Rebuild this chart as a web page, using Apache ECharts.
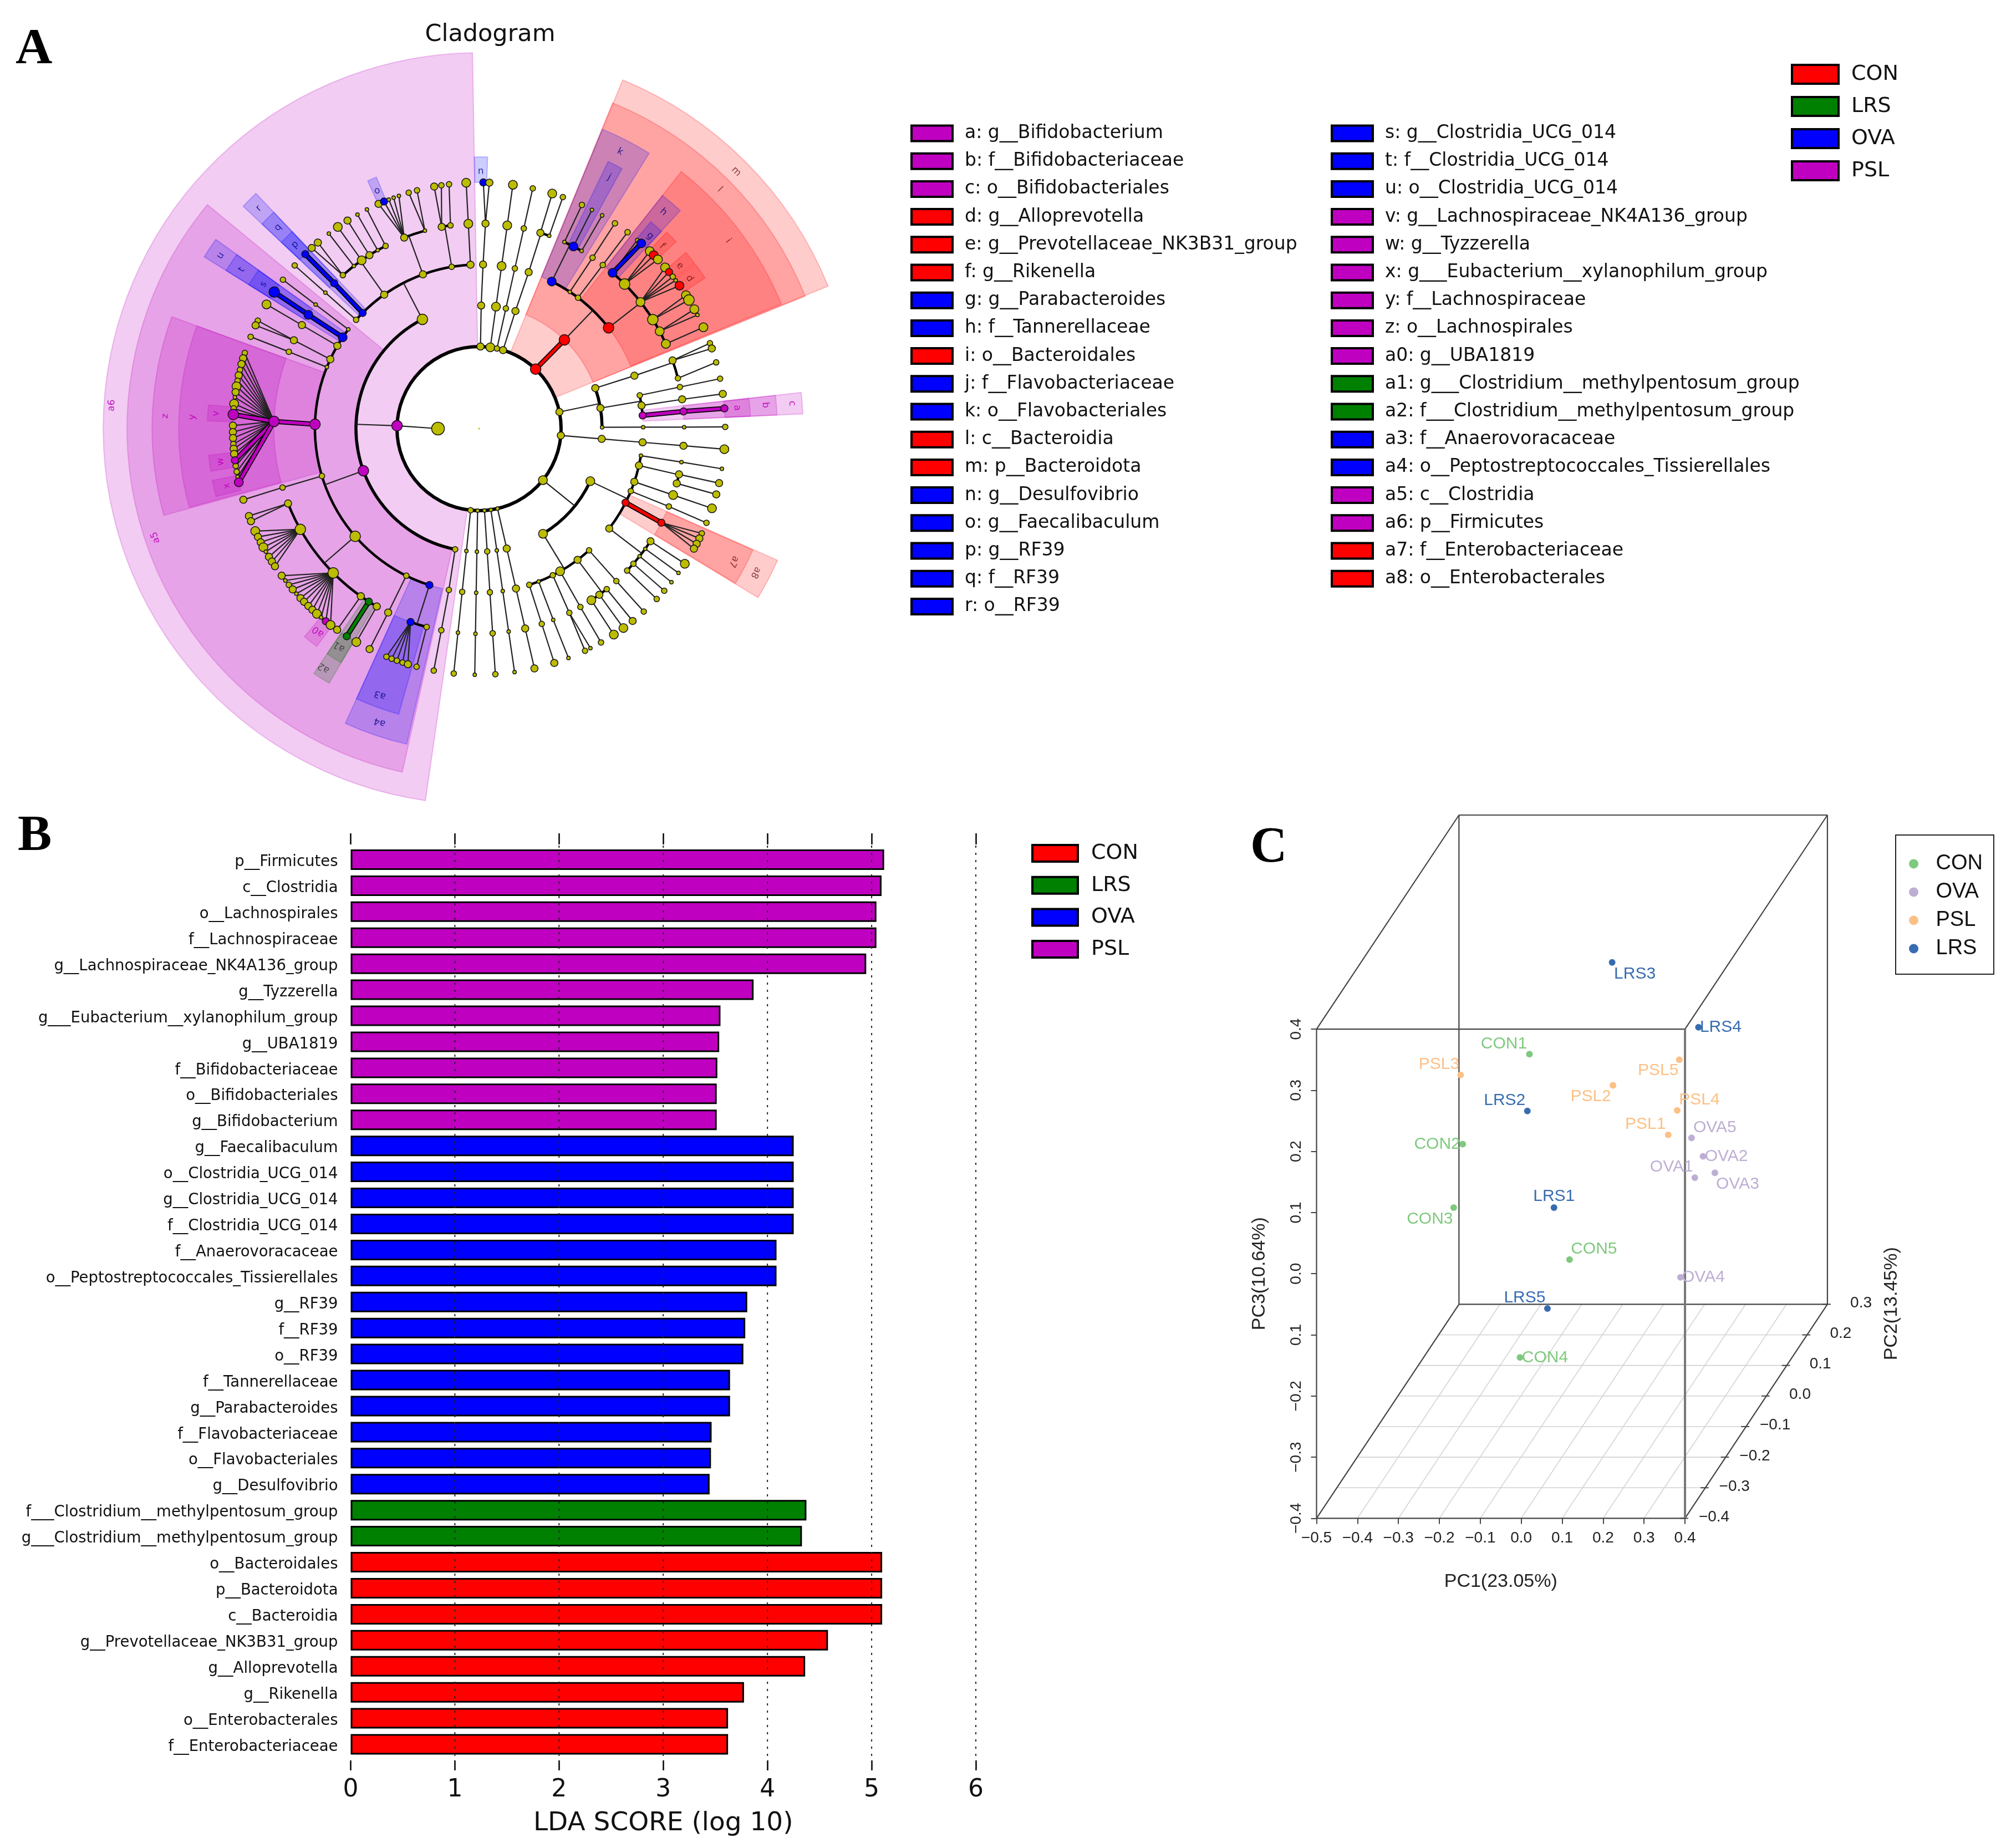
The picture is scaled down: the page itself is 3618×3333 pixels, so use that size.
<!DOCTYPE html>
<html>
<head>
<meta charset="utf-8">
<script src="https://cdn.jsdelivr.net/npm/echarts@6/dist/echarts.min.js"></script>
<style>html,body{margin:0;padding:0;background:#fff}#c{width:3618px;height:3333px}</style>
</head>
<body>
<div id="c"></div>
<script>
/* ---------- Panel B values ---------- */
const pslTaxa = ['p__Firmicutes','c__Clostridia','o__Lachnospirales','f__Lachnospiraceae','g__Lachnospiraceae_NK4A136_group','g__Tyzzerella','g___Eubacterium__xylanophilum_group','g__UBA1819','f__Bifidobacteriaceae','o__Bifidobacteriales','g__Bifidobacterium'];
const pslScore = [5.12,5.095,5.046,5.046,4.948,3.867,3.549,3.537,3.519,3.513,3.513];
const ovaTaxa = ['g__Faecalibaculum','o__Clostridia_UCG_014','g__Clostridia_UCG_014','f__Clostridia_UCG_014','f__Anaerovoracaceae','o__Peptostreptococcales_Tissierellales','g__RF39','f__RF39','o__RF39','f__Tannerellaceae','g__Parabacteroides','f__Flavobacteriaceae','o__Flavobacteriales','g__Desulfovibrio'];
const ovaScore = [4.252,4.252,4.252,4.252,4.087,4.087,3.806,3.787,3.769,3.641,3.641,3.464,3.458,3.445];
const lrsTaxa = ['f___Clostridium__methylpentosum_group','g___Clostridium__methylpentosum_group'];
const lrsScore = [4.374,4.331];
const conTaxa = ['o__Bacteroidales','p__Bacteroidota','c__Bacteroidia','g__Prevotellaceae_NK3B31_group','g__Alloprevotella','g__Rikenella','o__Enterobacterales','f__Enterobacteriaceae'];
const conScore = [5.101,5.101,5.101,4.581,4.362,3.775,3.622,3.622];
const ldaGuides = [1,2,3,4,5,6];

/* ---------- Panel A legend ---------- */
const cladeKeyLeft = [['a: g__Bifidobacterium','PSL'],['b: f__Bifidobacteriaceae','PSL'],['c: o__Bifidobacteriales','PSL'],['d: g__Alloprevotella','CON'],['e: g__Prevotellaceae_NK3B31_group','CON'],['f: g__Rikenella','CON'],['g: g__Parabacteroides','OVA'],['h: f__Tannerellaceae','OVA'],['i: o__Bacteroidales','CON'],['j: f__Flavobacteriaceae','OVA'],['k: o__Flavobacteriales','OVA'],['l: c__Bacteroidia','CON'],['m: p__Bacteroidota','CON'],['n: g__Desulfovibrio','OVA'],['o: g__Faecalibaculum','OVA'],['p: g__RF39','OVA'],['q: f__RF39','OVA'],['r: o__RF39','OVA']];
const cladeKeyRight = [['s: g__Clostridia_UCG_014','OVA'],['t: f__Clostridia_UCG_014','OVA'],['u: o__Clostridia_UCG_014','OVA'],['v: g__Lachnospiraceae_NK4A136_group','PSL'],['w: g__Tyzzerella','PSL'],['x: g___Eubacterium__xylanophilum_group','PSL'],['y: f__Lachnospiraceae','PSL'],['z: o__Lachnospirales','PSL'],['a0: g__UBA1819','PSL'],['a1: g___Clostridium__methylpentosum_group','LRS'],['a2: f___Clostridium__methylpentosum_group','LRS'],['a3: f__Anaerovoracaceae','OVA'],['a4: o__Peptostreptococcales_Tissierellales','OVA'],['a5: c__Clostridia','PSL'],['a6: p__Firmicutes','PSL'],['a7: f__Enterobacteriaceae','CON'],['a8: o__Enterobacterales','CON']];

/* ---------- Panel A highlighted clades: label, group, r0, r1, a0, a1, labelR, labelA (radius in taxonomy-level units, angle in degrees) ---------- */
const cladeSectors = [
['a6','PSL',2,9.16,188.2,359,8.97,273.6],['a5','PSL',3,8.58,192.6,309.5,8.32,251.4],['z','PSL',4,7.97,254.6,290,7.65,272.3],['y','PSL',5,7.32,254.8,290,6.99,272.3],
['a4','OVA',4,7.89,192.9,204.4,7.55,198.7],['a3','OVA',5,7.23,195.7,204.4,6.92,200.4],['a2','LRS',5,7.2,210.5,214,6.95,213],['a1','LRS',6,6.62,210.5,214,6.31,212.7],
['a0','PSL',6.04,6.62,216.7,220,6.31,218.4],['v','PSL',6,6.62,271.6,275,6.42,273.3],['w','PSL',6,6.62,261,264.4,6.35,262.7],['x','PSL',6,6.62,255.5,259,6.3,257.2],
['o','OVA',6,6.62,335.8,337.8,6.3,336.8],['n','OVA',6,6.62,-1,1.8,6.27,0.4],
['r','OVA',4,7.9,313.3,316.5,7.59,315],['q','OVA',5,7.27,313.3,316.5,6.93,315],['p','OVA',6,6.62,313.3,316.5,6.34,315],
['u','OVA',4,7.9,302,305.7,7.58,303.8],['t','OVA',5,7.27,302,305.7,6.96,303.8],['s','OVA',6,6.62,302,305.7,6.32,303.8],
['m','CON',2,9.19,22.4,67.8,8.86,45],['l','CON',3,8.58,22.3,67.9,8.27,45.2],['i','CON',4,7.97,38.2,67.6,7.6,53],
['k','OVA',4,7.89,22.4,31.7,7.57,27],['j','OVA',5,7.23,25.8,28.8,6.9,27.4],['h','OVA',5,7.23,38.2,42.7,6.93,40.4],['g','OVA',6,6.55,39.7,42.8,6.28,41.6],
['f','CON',6,6.62,43.7,46.5,6.3,45.1],['e','CON',6,6.62,49.6,52.4,6.3,51],['d','CON',6,6.62,52.7,56.3,6.3,54.5],
['c','PSL',4,7.9,83.6,87.4,7.65,85.4],['b','PSL',5,7.27,83.6,87.4,7,85.3],['a','PSL',6,6.62,83.6,87.4,6.31,85.4],
['a8','CON',4,7.95,113.8,121.2,7.6,117.5],['a7','CON',5,7.3,113.9,121.1,7,117.6]];

/* ---------- Panel A taxonomy tree: [angle, sizeClass, group, children] ---------- */
const CONg=1,LRSg=2,OVAg=3,PSLg=4;
const Y=(a,s,...k)=>[a,s,0,k], K=(a,s,g,...k)=>[a,s,g,k];
const L=(a,...z)=>[a,z[0],0,z.length>1?[L(a,...z.slice(1))]:[]];
const bacteroidotaBranch = K(43.6,5,CONg,K(43.9,5,CONg,
  K(26.3,4,OVAg,Y(24.6,1,Y(24.7,2)),K(27.4,4,OVAg,Y(27.3,1)),Y(30,1,Y(30,1))),
  Y(33.6,1,Y(33.6,2,Y(33.5,2))),
  Y(37.1,2,Y(37.1,2,Y(37.1,2))),
  K(52.1,5,CONg,
    K(40.6,4,OVAg,Y(40,1),K(41.2,4,OVAg)),
    Y(45.2,5,Y(43.9,4),K(45.2,4,CONg),Y(46.6,4)),
    Y(51.9,4,Y(49.1,4),K(50.5,3,CONg),Y(51.9,2),Y(53,1),K(54.5,4,CONg)),
    Y(57.9,5,Y(57.2,4),Y(58.5,5)),
    Y(61.7,4,Y(61,4),Y(62.5,1)),
    Y(65.6,4,Y(65.7,4)))));
const firmicutesUpper = Y(332.6,5,
  Y(357,3,Y(357,4,Y(357,4))),
  Y(350.4,2,Y(349.5,3,Y(349.5,3),Y(351.2,2)),Y(352,2,Y(353,2))),
  Y(340,3,Y(338.6,3,Y(335.9,3),K(337.3,3,OVAg),Y(338.5,1),Y(339.7,1),Y(341,1)),Y(344.7,1,Y(343.4,2),Y(345.4,2))),
  Y(324.7,3,Y(318.4,2,Y(317.2,3),Y(319.1,3)),Y(322.4,1,Y(322.4,1)),Y(325.1,4,Y(325,4)),Y(327.7,3,Y(327.7,3)),Y(330.4,1,Y(330.4,1)),Y(332.9,2,Y(332.9,1))),
  K(314.8,3,OVAg,K(315.1,3,OVAg,K(315.1,3,OVAg))),
  Y(311.5,2,Y(311.5,1,Y(311.5,2))));
const lachnoFan = [[287.9,2],[286.6,3],[285.2,3],[283.8,2],[282.5,3],[281.2,2],[279.9,4],[278.5,3],[277.3,1],[275.8,4],[274.7,2]];
const lachnoFanLow = [[270.7,3],[269.2,3],[267.8,3],[266.4,2],[265.3,3],[264.1,3],[261.3,2],[259.9,2],[258.7,1]];
const clostridiales = Y(240.6,5,Y(245.4,4),Y(243.9,3),Y(242.5,3),Y(241.2,4),Y(240,1),Y(238.6,3),Y(237.3,3),Y(236,3));
const oscillo = Y(225.3,5,Y(233.3,3),Y(231.9,1),Y(230.6,2),Y(229.2,3),Y(227.9,1),Y(226.5,3),Y(225.3,3),Y(223.9,3),Y(222.6,3),Y(221.2,4),Y(219.9,1),K(218.5,3,PSLg),Y(217.1,4));
const clostridiaBranch = K(250,5,PSLg,
  Y(307.2,1,Y(307.2,1,Y(307.2,2))),
  K(303.8,4,OVAg,K(303.7,4,OVAg,K(303.7,5,OVAg))),
  Y(300.3,3,Y(300.3,3,Y(300.3,4))),
  Y(295,3,Y(295.5,3,Y(296,2),Y(294.8,3))),
  Y(292,1,Y(292,2,Y(291.9,2))),
  K(271.5,5,PSLg,K(272,5,PSLg,
    ...lachnoFan.map(n=>Y(n[0],n[1])),K(273.3,5,PSLg),
    ...lachnoFanLow.map(n=>Y(n[0],n[1])),K(262.6,3,PSLg),K(257.4,4,PSLg))),
  Y(253.2,2,Y(253.3,2,Y(253.2,3))),
  Y(229,5,Y(248.6,3,Y(249.2,3),Y(247.9,3)),clostridiales,oscillo,Y(215.2,3,Y(215.2,3)),K(212.5,3,LRSg,K(212.5,3,LRSg)),Y(209.9,3,Y(209.9,4))),
  Y(206.3,2,Y(206.3,3,Y(206.4,3))),
  K(197.6,3,OVAg,K(199.5,3,OVAg,Y(202.1,2),Y(200.8,2),Y(199.5,2),Y(198.1,2),Y(196.8,3)),Y(194.8,2,Y(194.7,2))));
const cladePhyla = [
  Y(1,3,Y(1,3,Y(1.4,3,Y(1.8,3,K(1,3,OVAg),Y(2.4,3))))),
  L(7.9,4,4,4,4,4),
  L(12.6,2,2,2,2,2),
  Y(17,3,Y(17.2,3,Y(17.6,3,Y(17.4,3,Y(17.3,4)),Y(20,1,Y(19.9,2))))),
  bacteroidotaBranch,
  Y(78.3,3,
    Y(70.8,3,Y(71.2,3,Y(70.6,3,Y(69.7,2),Y(71,3)),Y(75.8,2,Y(74.4,2)))),
    Y(80.4,3,Y(78.3,2,Y(78.3,2,Y(78.3,2))),Y(81.9,3,Y(81.8,3,Y(81.9,3))),K(85.4,3,PSLg,K(85.2,3,PSLg,K(85.3,3,PSLg)))),
    Y(89.4,1,Y(89.5,1,Y(89.6,1,Y(89.6,2))))),
  L(94.8,3,3,3,3,4),
  Y(128.9,4,
    Y(115.3,4,
      Y(99.5,1,Y(99.4,1,Y(99.4,1))),
      Y(103,3,Y(102.9,3,Y(102.8,3)),Y(105.5,3,Y(105.5,3))),
      Y(108.9,3,Y(108.9,4,Y(108.9,4))),
      Y(112.4,2,Y(112.3,2,Y(112.5,2))),
      K(116.8,3,CONg,K(117.3,3,CONg,Y(115.2,2),Y(116.5,3),Y(117.9,3),Y(119.2,3))),
      Y(127.5,3,Y(123.3,3,Y(123.3,4)),Y(125.9,1,Y(125.9,1)),Y(128.5,1,Y(128.6,1)),Y(131.2,2,Y(131.2,2)),Y(133.8,2,Y(133.8,2)))),
    Y(148.7,4,
      Y(137.9,2,Y(138,2,Y(138,2))),
      Y(143.1,3,Y(141.5,2,Y(141.4,3)),Y(144.1,3,Y(144.1,4)),Y(146.8,4,Y(146.8,4))),
      Y(150.4,4,Y(150.4,2,Y(150.3,2))),
      Y(153.3,2,Y(153.9,2,Y(153.1,1),Y(154.5,2))),
      Y(158.7,1,Y(158.8,1,Y(158.7,1))),
      Y(162.2,2,Y(162.2,2,Y(162.2,3))))),
  L(167,1,3,3,3,3),
  L(171.7,1,1,1,1,1),
  L(176.2,1,2,2,2,2),
  L(181,1,1,1,1,1),
  L(185.9,2,1,2,1,2),
  K(272,5,PSLg,firmicutesUpper,clostridiaBranch,Y(191.2,2,Y(190.6,2,Y(190.6,2,Y(190.6,2)))))
];

/* ---------- Panel C values: positions on the front-plane PC1 / PC3 scales ---------- */
const pcaCON = [['CON1',0.020,0.359],['CON2',-0.143,0.212],['CON3',-0.165,0.108],['CON4',-0.003,-0.137],['CON5',0.118,0.023]];
const pcaOVA = [['OVA1',0.424,0.157],['OVA2',0.444,0.192],['OVA3',0.473,0.165],['OVA4',0.389,-0.006],['OVA5',0.416,0.222]];
const pcaPSL = [['PSL1',0.359,0.227],['PSL2',0.224,0.308],['PSL3',-0.148,0.325],['PSL4',0.381,0.267],['PSL5',0.386,0.350]];
const pcaLRS = [['LRS1',0.080,0.108],['LRS2',0.015,0.266],['LRS3',0.222,0.509],['LRS4',0.433,0.403],['LRS5',0.064,-0.057]];
const pc1Ticks = [-0.5,-0.4,-0.3,-0.2,-0.1,0,0.1,0.2,0.3,0.4];
const pc2Ticks = [-0.4,-0.3,-0.2,-0.1,0,0.1,0.2,0.3];
const pc3Ticks = [-0.4,-0.3,-0.2,-0.1,0,0.1,0.2,0.3,0.4];

/* ---------- styling ---------- */
const GROUP = {CON:'#ff0000',LRS:'#008000',OVA:'#0000ff',PSL:'#c000c0'};
const GROUP_RGB = {CON:'255,0,0',LRS:'0,110,0',OVA:'0,0,255',PSL:'192,0,192'};
const LABEL_INK = {CON:'rgba(90,0,0,.7)',LRS:'rgba(40,50,40,.75)',OVA:'rgba(0,0,130,.8)',PSL:'rgba(190,0,190,.9)'};
const NODE_FILL = ['#bcbc00','#ff0000','#008000','#0000ff','#c000c0'];
const NODE_SIZE = [0,6.5,10,13,16,19,23];
const PCA_COLOR = {CON:'#7fc97f',OVA:'#beaed4',PSL:'#fdc086',LRS:'#386cb0'};
const SANS='"DejaVu Sans"', ARIAL='"Liberation Sans"', SERIF='"Liberation Serif"';
const STEP=74, RMAX=9.5;

/* ---------- flatten tree ---------- */
const nodes=[], edges=[], arcs=[[2,0,360,6]];
function walk(n,level){
  const [a,s,g,kids]=n;
  nodes.push({value:[level,a],symbolSize:NODE_SIZE[s],itemStyle:{color:NODE_FILL[g]}});
  if(!kids.length) return;
  if(kids.length===1||level+1===6){
    kids.forEach(k=>edges.push([level,a,level+1,k[0],(k[2]&&k[2]===g)?g:0]));
  }else{
    edges.push([level,a,level+1,a,0]);
    const as=kids.map(k=>k[0]);
    arcs.push([level+1,Math.min(...as),Math.max(...as),level+1<4?5.5:4.5]);
  }
  kids.forEach(k=>walk(k,level+1));
}
cladePhyla.forEach(p=>walk(p,2));
nodes.push({value:[1,270],symbolSize:NODE_SIZE[6],itemStyle:{color:NODE_FILL[0]}});
nodes.push({value:[0,0],symbolSize:3,itemStyle:{color:NODE_FILL[0],borderWidth:0}});
edges.push([1,270,2,272,0]);
edges.sort((p,q)=>p[4]-q[4]);

const rad=d=>(d-90)*Math.PI/180;
function renderSector(params,api){
  const s=cladeSectors[params.dataIndex], c=params.coordSys;
  const pxr=c.r/RMAX;
  const lp=api.coord([s[6],s[7]]);
  return {type:'group',children:[
    {type:'sector',shape:{cx:c.cx,cy:c.cy,r0:s[2]*pxr,r:s[3]*pxr,startAngle:rad(s[4]),endAngle:rad(s[5])},
     style:{fill:'rgba('+GROUP_RGB[s[1]]+',.2)',stroke:'rgba('+GROUP_RGB[s[1]]+',.22)',lineWidth:2}},
    {type:'text',x:lp[0],y:lp[1],rotation:-s[7]*Math.PI/180,
     style:{text:s[0],font:'17px '+SANS,fill:LABEL_INK[s[1]],align:'center',verticalAlign:'middle'}}
  ]};
}
function renderArc(params){
  const s=arcs[params.dataIndex], c=params.coordSys, pxr=c.r/RMAX;
  return {type:'arc',shape:{cx:c.cx,cy:c.cy,r:s[0]*pxr,startAngle:rad(s[1]),endAngle:rad(s[2]),clockwise:true},
    style:{stroke:'#000',lineWidth:s[3],fill:null,lineCap:'round'}};
}
function renderEdge(params,api){
  const e=edges[params.dataIndex], p=api.coord([e[0],e[1]]), q=api.coord([e[2],e[3]]);
  const shape={x1:p[0],y1:p[1],x2:q[0],y2:q[1]};
  if(!e[4]) return {type:'line',shape,style:{stroke:'#222',lineWidth:2.2}};
  return {type:'group',children:[
    {type:'line',shape,style:{stroke:'#000',lineWidth:9}},
    {type:'line',shape,style:{stroke:NODE_FILL[e[4]],lineWidth:5.5}}]};
}
function renderGuide(params,api){
  const x=ldaGuides[params.dataIndex],a=api.coord([x,0]),b=api.coord([x,1]);
  return {type:'line',shape:{x1:a[0],y1:a[1],x2:b[0],y2:b[1]},style:{stroke:'#222',lineWidth:2,lineDash:[4,9]}};
}

/* ---------- panel C helpers ---------- */
const K1=0.497, K2=0.5;
const project=(p1,p2,p3)=>[p1+K1*(p2+0.4),p3+K2*(p2+0.4)];
const seg=(a,b,col,w)=>[...a,...b,col,w];
const boxSegs=[];
pc2Ticks.slice(1,-1).forEach(t=>boxSegs.push(seg(project(-0.5,t,-0.4),project(0.4,t,-0.4),'#d2d2d2',1.6)));
pc1Ticks.slice(1,-1).forEach(t=>boxSegs.push(seg(project(t,-0.4,-0.4),project(t,0.3,-0.4),'#d2d2d2',1.6)));
const P=(a,b,c)=>project(a,b,c);
[[P(-.5,.3,-.4),P(.4,.3,-.4)],[P(-.5,.3,-.4),P(-.5,.3,.4)],[P(.4,.3,-.4),P(.4,.3,.4)],[P(-.5,.3,.4),P(.4,.3,.4)],
 [P(-.5,-.4,.4),P(-.5,.3,.4)],[P(.4,-.4,.4),P(.4,.3,.4)],[P(-.5,-.4,-.4),P(-.5,.3,-.4)],[P(.4,-.4,-.4),P(.4,.3,-.4)],
 [P(-.5,-.4,-.4),P(-.5,-.4,.4)],[P(-.5,-.4,-.4),P(.4,-.4,-.4)],[P(-.5,-.4,.4),P(.4,-.4,.4)]
].forEach(s=>boxSegs.push(seg(s[0],s[1],'#444',2.2)));
boxSegs.push(seg(P(.4,-.4,-.4),P(.4,-.4,.4),'#777',4));
pc2Ticks.forEach(t=>{const q=project(0.4,t,-0.4);boxSegs.push(seg([q[0]-0.012,q[1]],[q[0]+0.008,q[1]],'#444',2));});
function renderSeg(params,api){
  const s=boxSegs[params.dataIndex],a=api.coord([s[0],s[1]]),b=api.coord([s[2],s[3]]);
  return {type:'line',shape:{x1:a[0],y1:a[1],x2:b[0],y2:b[1]},style:{stroke:s[4],lineWidth:s[5]}};
}
const minus=v=>v<0?'\u2212'+Math.abs(v).toFixed(1):v.toFixed(1);
const pcaNotes=[['PC1(23.05%)',-0.05,-0.504,0,34,'center'],['PC3(10.64%)',-0.639,0,90,34,'center'],['PC2(13.45%)',0.905,-0.049,90,34,'center']];
pc2Ticks.forEach(t=>{const q=project(0.4,t,-0.4);pcaNotes.push([minus(t),q[0]+0.1085,q[1]+0.002,0,28,'right']);});
function renderNote(params,api){
  const s=pcaNotes[params.dataIndex],a=api.coord([s[1],s[2]]);
  return {type:'text',x:a[0],y:a[1],rotation:s[3]*Math.PI/180,
    style:{text:s[0],font:s[4]+'px '+ARIAL,fill:'#222',align:s[5],verticalAlign:'middle'}};
}
const LABEL_OFFSET={CON1:[-46,-19],CON2:[-46,0],CON3:[-43,21],CON4:[45,0],CON5:[44,-19],OVA1:[-42,-19],OVA2:[42,0],OVA3:[41,21],OVA4:[41,0],OVA5:[42,-19],PSL1:[-41,-19],PSL2:[-40,20],PSL3:[-39,-19],PSL4:[40,-19],PSL5:[-38,20],LRS1:[0,-20],LRS2:[-41,-19],LRS3:[41,21],LRS4:[40,0],LRS5:[-41,-19]};
const pcaSeries=(name,rows)=>({type:'scatter',name,xAxisIndex:3,yAxisIndex:2,z:6,symbolSize:12,silent:true,
  itemStyle:{color:PCA_COLOR[name],opacity:1},
  label:{show:true,position:'inside',formatter:'{b}',color:PCA_COLOR[name],fontFamily:ARIAL,fontSize:30},
  data:rows.map(r=>({name:r[0],value:[r[1],r[2]],label:{offset:LABEL_OFFSET[r[0]]}}))});

/* ---------- panel B helpers ---------- */
const taxa=[...pslTaxa,...ovaTaxa,...lrsTaxa,...conTaxa];
const sets=[['PSL',pslTaxa,pslScore],['OVA',ovaTaxa,ovaScore],['LRS',lrsTaxa,lrsScore],['CON',conTaxa,conScore]];
const barSeries=sets.map(([name,t,v])=>({type:'bar',name,xAxisIndex:2,yAxisIndex:1,stack:'lda',barWidth:37,silent:true,z:2,
  itemStyle:{color:GROUP[name],borderColor:'#000',borderWidth:3},
  data:taxa.map(x=>{const i=t.indexOf(x);return i<0?null:v[i];})}));

const keySeries=[...cladeKeyLeft,...cladeKeyRight].map(k=>({type:'scatter',name:k[0],coordinateSystem:'polar',data:[]}));
const boxLegend=(names,left,top,itemW,itemH,gap,font,textPad)=>({left,top,orient:'vertical',padding:0,itemGap:gap,itemWidth:itemW,itemHeight:itemH,
  selectedMode:false,icon:'rect',
  textStyle:{fontFamily:SANS,fontSize:font,color:'#111',lineHeight:itemH,padding:[0,0,0,textPad]},
  data:names.map(n=>({name:n[0],icon:'rect',itemStyle:{color:GROUP[n[1]],borderColor:'#000',borderWidth:4,opacity:1}}))});
const groups4=['CON','LRS','OVA','PSL'].map(g=>[g,g]);

const option={
  backgroundColor:'#fff',animation:false,
  title:[
    {text:'A',left:28,top:44,padding:0,textStyle:{fontFamily:SERIF,fontWeight:'bold',fontSize:92,color:'#000'}},
    {text:'Cladogram',left:884,top:41,padding:0,textAlign:'center',textStyle:{fontFamily:SANS,fontWeight:'normal',fontSize:43,color:'#111'}},
    {text:'B',left:32,top:1463,padding:0,textStyle:{fontFamily:SERIF,fontWeight:'bold',fontSize:92,color:'#000'}},
    {text:'C',left:2255,top:1484,padding:0,textStyle:{fontFamily:SERIF,fontWeight:'bold',fontSize:92,color:'#000'}}
  ],
  legend:[
    boxLegend(cladeKeyLeft,1642,224,74,28,17.2,33,17),
    boxLegend(cladeKeyRight,2400,224,74,28,17.2,33,17),
    boxLegend(groups4,3230,115,84,34,20,38,18),
    boxLegend(groups4,1860,1520,82,30,19.7,38,19),
    {left:3419,top:1506,orient:'vertical',padding:[33,20,27,24],itemGap:13,itemWidth:64,itemHeight:17,selectedMode:false,
     borderColor:'#222',borderWidth:2,
     textStyle:{fontFamily:ARIAL,fontSize:38,color:'#111',lineHeight:38,padding:[0,0,0,3]},
     data:['CON','OVA','PSL','LRS'].map(n=>({name:n,icon:'circle',itemStyle:{color:PCA_COLOR[n],borderWidth:0,opacity:1}}))}
  ],
  polar:{center:[864,773],radius:STEP*RMAX},
  angleAxis:{type:'value',min:0,max:360,startAngle:90,clockwise:true,show:false},
  radiusAxis:{type:'value',min:0,max:RMAX,show:false},
  grid:[
    {left:632.5,width:1127.5,top:1503,height:1690},
    {left:632.5,width:1127.5,top:1527,height:1642.5},
    {left:2374.5,width:921.5,top:1470,height:1268.4}
  ],
  xAxis:[
    {gridIndex:0,type:'value',min:0,max:6,interval:1,position:'bottom',
     axisLine:{show:false,onZero:false},axisTick:{show:true,inside:true,length:18,lineStyle:{color:'#000',width:2.5}},
     splitLine:{show:false},
     axisLabel:{fontFamily:SANS,fontSize:44,color:'#111',margin:14},
     name:'LDA SCORE (log 10)',nameLocation:'middle',nameGap:72,nameTextStyle:{fontFamily:SANS,fontSize:47,color:'#111'}},
    {gridIndex:0,type:'value',min:0,max:6,interval:1,position:'top',
     axisLine:{show:false,onZero:false},axisLabel:{show:false},splitLine:{show:false},
     axisTick:{show:true,inside:true,length:20,lineStyle:{color:'#000',width:2.5}}},
    {gridIndex:1,type:'value',min:0,max:6,show:false},
    {gridIndex:2,type:'value',min:-0.5,max:0.748,position:'bottom',
     axisLine:{show:false,onZero:false},splitLine:{show:false},
     axisTick:{show:true,length:10,customValues:pc1Ticks,lineStyle:{color:'#444',width:2}},
     axisLabel:{show:true,customValues:pc1Ticks,formatter:v=>minus(v),fontFamily:ARIAL,fontSize:28,color:'#222',margin:22,hideOverlap:false}}
  ],
  yAxis:[
    {gridIndex:0,type:'value',min:0,max:1,show:false},
    {gridIndex:1,type:'category',inverse:true,data:taxa,
     axisLine:{show:false},axisTick:{show:false},splitLine:{show:false},
     axisLabel:{interval:0,color:'#111',margin:23,formatter:v=>'{t|'+v+'}',
       rich:{t:{fontFamily:SANS,fontSize:27.5,color:'#111',padding:[9,0,0,0]}}}},
    {gridIndex:2,type:'value',min:-0.4,max:0.75,position:'left',
     axisLine:{show:false,onZero:false},splitLine:{show:false},
     axisTick:{show:true,length:10,customValues:pc3Ticks,lineStyle:{color:'#444',width:2}},
     axisLabel:{show:true,customValues:pc3Ticks,rotate:90,
       formatter:v=>Math.abs(v+0.1)<1e-6?'0.1':minus(v),fontFamily:ARIAL,fontSize:28,color:'#222',margin:22,hideOverlap:false}}
  ],
  series:[
    {type:'custom',coordinateSystem:'polar',z:1,silent:true,renderItem:renderSector,data:cladeSectors.map(s=>[s[2],s[4]])},
    {type:'custom',coordinateSystem:'polar',z:2,silent:true,renderItem:renderArc,data:arcs.map(s=>[s[0],s[1]])},
    {type:'custom',coordinateSystem:'polar',z:3,silent:true,renderItem:renderEdge,data:edges.map(s=>[s[0],s[1]])},
    {type:'scatter',coordinateSystem:'polar',z:4,silent:true,itemStyle:{borderColor:'#111',borderWidth:1.5,opacity:1},data:nodes},
    ...barSeries,
    {type:'custom',xAxisIndex:0,yAxisIndex:0,z:5,silent:true,renderItem:renderGuide,data:ldaGuides.map(x=>[x,0])},
    {type:'custom',xAxisIndex:3,yAxisIndex:2,z:3,silent:true,renderItem:renderSeg,data:boxSegs.map(s=>[s[0],s[1]]),clip:false},
    {type:'custom',xAxisIndex:3,yAxisIndex:2,z:3,silent:true,renderItem:renderNote,data:pcaNotes.map(s=>[s[1],s[2]]),clip:false},
    pcaSeries('CON',pcaCON),pcaSeries('OVA',pcaOVA),pcaSeries('PSL',pcaPSL),pcaSeries('LRS',pcaLRS),
    ...keySeries
  ]
};
const chart=echarts.init(document.getElementById('c'),null,{renderer:'canvas',width:3618,height:3333});
chart.setOption(option);
</script>
</body>
</html>
